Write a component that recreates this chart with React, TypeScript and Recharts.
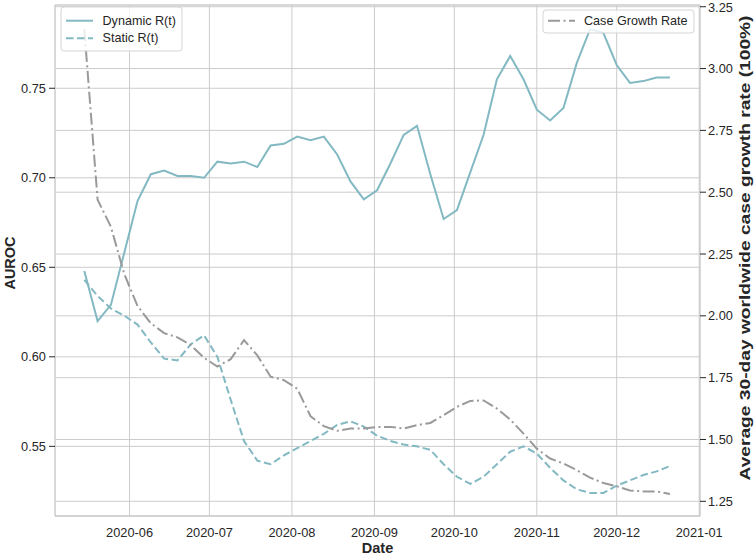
import React from 'react';
import { LineChart, Line, XAxis, YAxis, CartesianGrid, Label } from 'recharts';

const dates = [
  '2020-05-15', '2020-05-20', '2020-05-25', '2020-05-30', '2020-06-04', '2020-06-09',
  '2020-06-14', '2020-06-19', '2020-06-24', '2020-06-29', '2020-07-04', '2020-07-09',
  '2020-07-14', '2020-07-19', '2020-07-24', '2020-07-29', '2020-08-03', '2020-08-08',
  '2020-08-13', '2020-08-18', '2020-08-23', '2020-08-28', '2020-09-02', '2020-09-07',
  '2020-09-12', '2020-09-17', '2020-09-22', '2020-09-27', '2020-10-02', '2020-10-07',
  '2020-10-12', '2020-10-17', '2020-10-22', '2020-10-27', '2020-11-01', '2020-11-06',
  '2020-11-11', '2020-11-16', '2020-11-21', '2020-11-26', '2020-12-01', '2020-12-06',
  '2020-12-11', '2020-12-16', '2020-12-21',
];

const dynamicRt = [
  0.648, 0.620, 0.629, 0.658, 0.687, 0.702,
  0.704, 0.701, 0.701, 0.700, 0.709, 0.708,
  0.709, 0.706, 0.718, 0.719, 0.723, 0.721,
  0.723, 0.713, 0.698, 0.688, 0.693, 0.708,
  0.724, 0.729, 0.702, 0.677, 0.682, 0.703,
  0.724, 0.755, 0.768, 0.755, 0.738, 0.732,
  0.739, 0.764, 0.783, 0.781, 0.763, 0.753,
  0.754, 0.756, 0.756,
];

const staticRt = [
  0.643, 0.634, 0.627, 0.623, 0.618, 0.608,
  0.599, 0.598, 0.607, 0.612, 0.600, 0.576,
  0.553, 0.542, 0.540, 0.545, 0.549, 0.553,
  0.557, 0.562, 0.564, 0.561, 0.556, 0.553,
  0.551, 0.550, 0.548, 0.540, 0.533, 0.529,
  0.533, 0.540, 0.547, 0.550, 0.546, 0.538,
  0.531, 0.526, 0.524, 0.524, 0.528, 0.531,
  0.534, 0.536, 0.539,
];

const caseGrowth = [
  3.16, 2.47, 2.36, 2.17, 2.04, 1.97,
  1.93, 1.913, 1.882, 1.83, 1.795, 1.825,
  1.902, 1.84, 1.754, 1.74, 1.705, 1.594,
  1.554, 1.535, 1.544, 1.544, 1.551, 1.551,
  1.544, 1.558, 1.567, 1.598, 1.632, 1.656,
  1.658, 1.625, 1.581, 1.524, 1.463, 1.423,
  1.403, 1.376, 1.346, 1.324, 1.311, 1.294,
  1.290, 1.290, 1.280,
];

const monthTicks = [
  '2020-06-01', '2020-07-01', '2020-08-01', '2020-09-01',
  '2020-10-01', '2020-11-01', '2020-12-01', '2021-01-01',
];
const leftTicks = [0.55, 0.6, 0.65, 0.7, 0.75];
const rightTicks = [1.25, 1.5, 1.75, 2.0, 2.25, 2.5, 2.75, 3.0, 3.25];

const DAY = 86400000;
const toDay = (s: string) => Date.parse(s + 'T00:00:00Z') / DAY;

const table = dates.map((d, i) => ({
  t: toDay(d),
  dyn: dynamicRt[i],
  stat: staticRt[i],
  cg: caseGrowth[i],
}));

const xTicks = monthTicks.map(toDay);
const xDomain = [toDay(dates[0]) - 11, toDay(dates[dates.length - 1]) + 11.3];

const fmtMonth = (v: number) => {
  const d = new Date(v * DAY);
  const m = d.getUTCMonth() + 1;
  return `${d.getUTCFullYear()}-${m < 10 ? '0' + m : m}`;
};

const FONT = '"Liberation Sans", Arial, sans-serif';
const TXT = '#262626';
const TEAL = '#83b9c2';
const GREY = '#9a9a9a';
const GRID = '#cccccc';
const tickStyle = { fontSize: 12.8, fill: TXT, fontFamily: FONT };
const labelStyle = { fontSize: 14.5, fontWeight: 'bold' as const, fill: TXT, fontFamily: FONT };

export default function App() {
  return (
    <div style={{ position: 'absolute', top: 0, left: 0, width: 755, height: 556, background: '#fff' }}>
      <LineChart
        width={755}
        height={556}
        data={table}
        margin={{ top: 5, right: 0, bottom: 0, left: 0 }}
        style={{ fontFamily: FONT }}
      >
        <CartesianGrid yAxisId="left" stroke={GRID} strokeWidth={1} />
        <CartesianGrid yAxisId="right" vertical={false} stroke={GRID} strokeWidth={1} />
        <XAxis
          dataKey="t"
          type="number"
          domain={xDomain}
          ticks={xTicks}
          tickFormatter={fmtMonth}
          allowDataOverflow
          height={40}
          tickLine={false}
          tickSize={6}
          tickMargin={6}
          axisLine={{ stroke: GRID }}
          tick={tickStyle}
        >
          <Label
            content={() => (
              <text x={377.5} y={548} textAnchor="middle" dominantBaseline="central" style={labelStyle}>
                Date
              </text>
            )}
          />
        </XAxis>
        <XAxis
          xAxisId="top"
          orientation="top"
          dataKey="t"
          type="number"
          domain={xDomain}
          allowDataOverflow
          height={0}
          tick={false}
          tickLine={false}
          axisLine={{ stroke: GRID }}
        />
        <YAxis
          yAxisId="left"
          domain={[0.5111, 0.7965]}
          ticks={leftTicks}
          allowDataOverflow
          tickFormatter={(v: number) => v.toFixed(2)}
          width={55}
          tickSize={6}
          tickMargin={3}
          tickLine={{ stroke: TXT }}
          axisLine={{ stroke: GRID }}
          tick={tickStyle}
        >
          <Label
            content={() => (
              <text x={10} y={263} textAnchor="middle" dominantBaseline="central"
                transform="rotate(-90 10 263)" style={labelStyle}>
                AUROC
              </text>
            )}
          />
        </YAxis>
        <YAxis
          yAxisId="right"
          orientation="right"
          domain={[1.1906, 3.257]}
          ticks={rightTicks}
          allowDataOverflow
          tickFormatter={(v: number) => v.toFixed(2)}
          width={55}
          tickSize={6}
          tickMargin={2}
          tickLine={{ stroke: TXT }}
          axisLine={{ stroke: GRID }}
          tick={tickStyle}
        >
          <Label
            content={() => (
              <text x={745} y={248} textAnchor="middle" dominantBaseline="central"
                transform="rotate(-90 745 248)" textLength={465} lengthAdjust="spacingAndGlyphs"
                style={labelStyle}>
                Average 30-day worldwide case growth rate (100%)
              </text>
            )}
          />
        </YAxis>
        <Line yAxisId="left" dataKey="dyn" stroke={TEAL} strokeWidth={2} dot={false} isAnimationActive={false} />
        <Line yAxisId="left" dataKey="stat" stroke={TEAL} strokeWidth={2} strokeDasharray="7.5 3.5" dot={false} isAnimationActive={false} />
        <Line yAxisId="right" dataKey="cg" stroke={GREY} strokeWidth={2} strokeDasharray="12 3.5 2 3.5" dot={false} isAnimationActive={false} />
      </LineChart>
      <svg width={755} height={556} style={{ position: 'absolute', top: 0, left: 0, pointerEvents: 'none' }}>
        <g style={{ fontFamily: FONT, fontSize: 12.6, fill: TXT }}>
          <rect x={61} y={7} width={121} height={44} rx={3} fill="rgba(255,255,255,0.8)" stroke="#d5d5d5" />
          <line x1={66} x2={93} y1={20.7} y2={20.7} stroke={TEAL} strokeWidth={2} />
          <text x={102.5} y={20.7} dominantBaseline="central">Dynamic R(t)</text>
          <line x1={66} x2={93} y1={38.3} y2={38.3} stroke={TEAL} strokeWidth={2} strokeDasharray="7.5 3.5" />
          <text x={102.5} y={38.3} dominantBaseline="central">Static R(t)</text>
          <rect x={543} y={10} width={151} height={23} rx={3} fill="rgba(255,255,255,0.8)" stroke="#d5d5d5" />
          <line x1={548} x2={575} y1={20.7} y2={20.7} stroke={GREY} strokeWidth={2} strokeDasharray="12 3.5 2 3.5" />
          <text x={584} y={20.7} dominantBaseline="central">Case Growth Rate</text>
        </g>
      </svg>
    </div>
  );
}
